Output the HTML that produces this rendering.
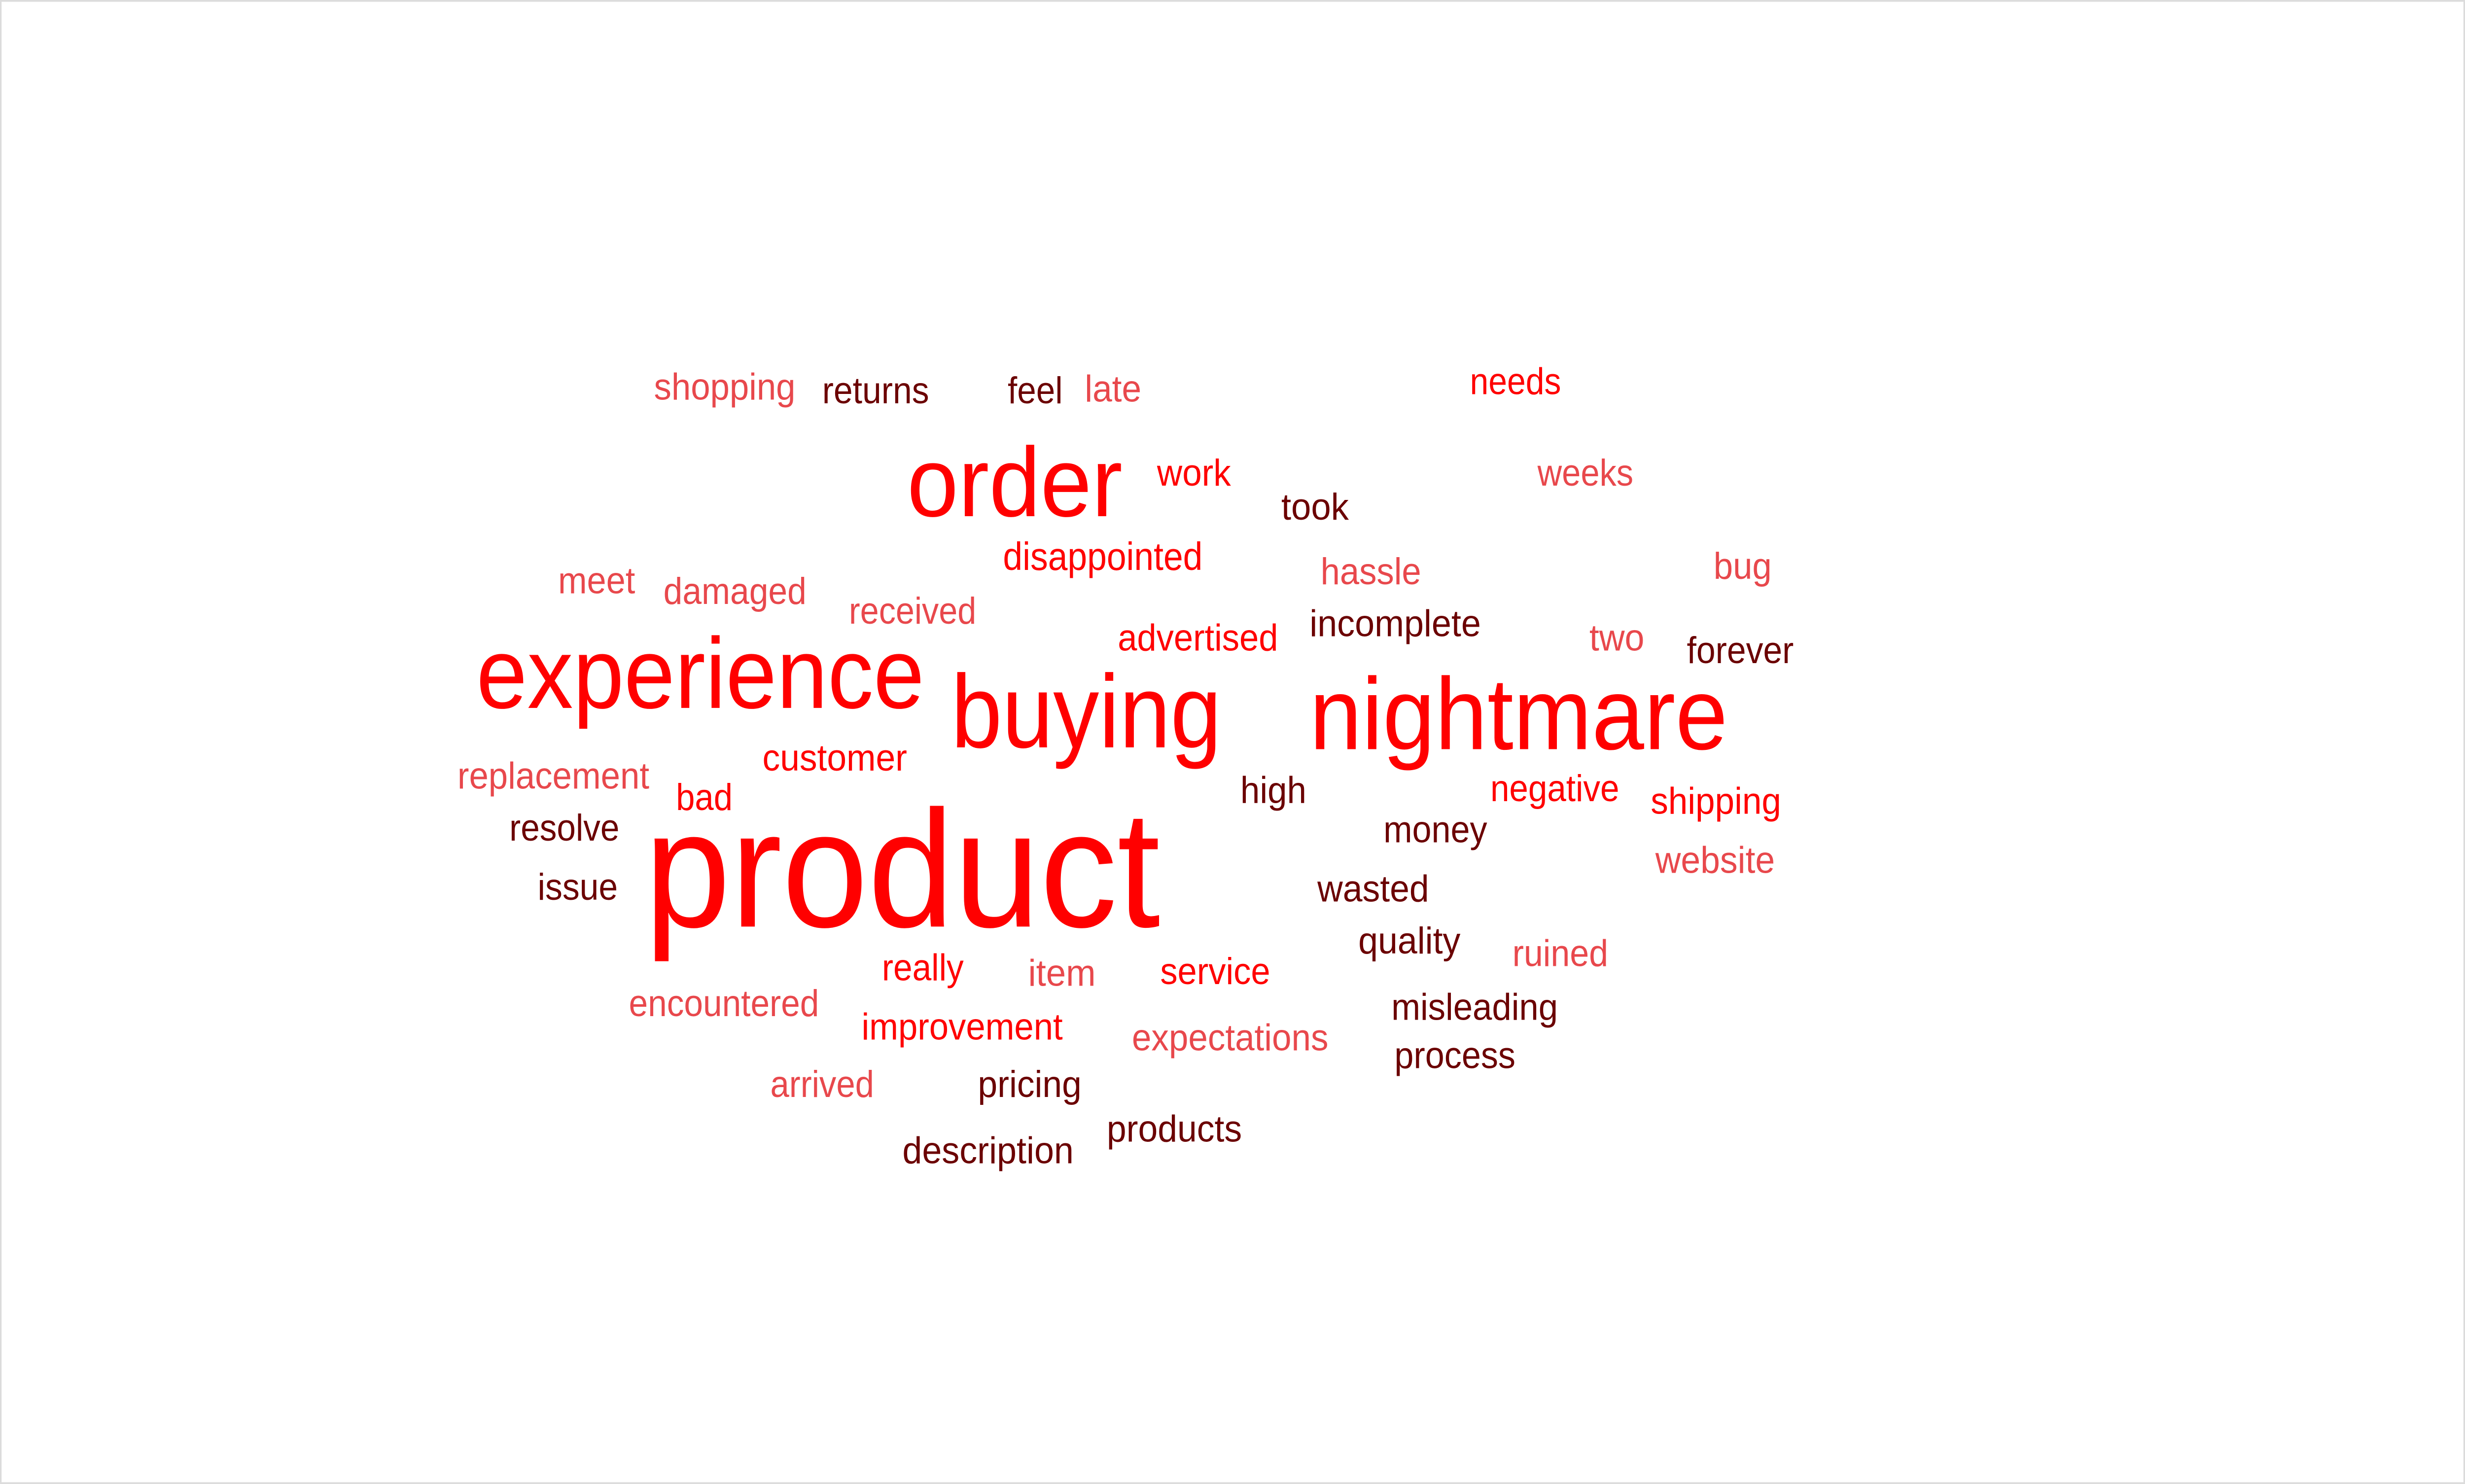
<!DOCTYPE html>
<html><head><meta charset="utf-8"><style>
html,body{margin:0;padding:0;background:#fff;width:100%;height:100%;overflow:hidden;}
svg{display:block;position:fixed;left:0;top:0;width:100vw;height:100vh;}
text{font-family:"Liberation Sans",sans-serif;}
</style></head><body>
<svg id="chart" viewBox="0 0 1568 828" preserveAspectRatio="none" xmlns="http://www.w3.org/2000/svg">
<rect x="0.5" y="0.5" width="1567" height="827" fill="#fff" stroke="#dcdcdc" stroke-width="1"/>
<g id="words"></g>
</svg>
<script>
const words=["shopping","returns","feel","late","needs","order","work","took","weeks","disappointed","hassle","bug","meet","damaged","received","advertised","incomplete","two","forever","experience","buying","nightmare","replacement","customer","bad","high","negative","shipping","resolve","money","website","issue","wasted","quality","ruined","really","item","service","encountered","improvement","expectations","misleading","process","arrived","pricing","products","description","product"];
const sizes=[21,21,21,21,21,55,21,21,21,22,21,21,21,21,21,21,21,21,21,56,58,57,21,21,21,21,21,21,21,21,21,21,21,21,21,21,21,21,21,21,21,21,21,21,21,21,21,93];
const tones=["l","d","d","l","r","r","r","d","l","r","l","l","l","l","l","r","d","l","d","r","r","r","l","r","r","d","r","r","d","d","l","d","d","d","l","r","l","r","l","r","l","d","d","l","d","d","d","r"];
const lefts=[416,523,641,690,935,577,736,815,978,638,840,1090,355,422,540,711,833,1011,1073,303,605,833,291,485,430,789,948,1050,324,880,1053,342,838,864,962,561,654,738,400,548,720,885,887,490,622,704,574,410];
const rights=[506,591,676,726,993,714,783,858,1039,765,904,1127,404,513,621,813,942,1046,1141,588,777,1099,413,577,466,831,1030,1133,394,946,1129,393,909,929,1023,613,697,808,521,676,845,991,964,556,688,790,683,738];
const baselines=[223,225,225,224,220,288,271,290,271,318,326,323,331,337,348,363,355,363,370,395,417,418,440,430,452,448,447,454,469,470,487,502,503,532,539,547,550,549,567,580,586,569,596,612,612,637,649,517];
const palette={r:"#ff0000",l:"#e8484c",d:"#6b0000"};
const g=document.getElementById('words');
words.forEach((w,i)=>{
  const t=document.createElementNS('http://www.w3.org/2000/svg','text');
  
  
  t.setAttribute('x',lefts[i]);
  t.setAttribute('y',baselines[i]);
  t.setAttribute('font-size',sizes[i]);
  t.setAttribute('fill',palette[tones[i]]);
  t.setAttribute('textLength',rights[i]-lefts[i]);
  t.setAttribute('lengthAdjust','spacingAndGlyphs');
  t.textContent=w;
  g.appendChild(t);
});
</script>
</body></html>
